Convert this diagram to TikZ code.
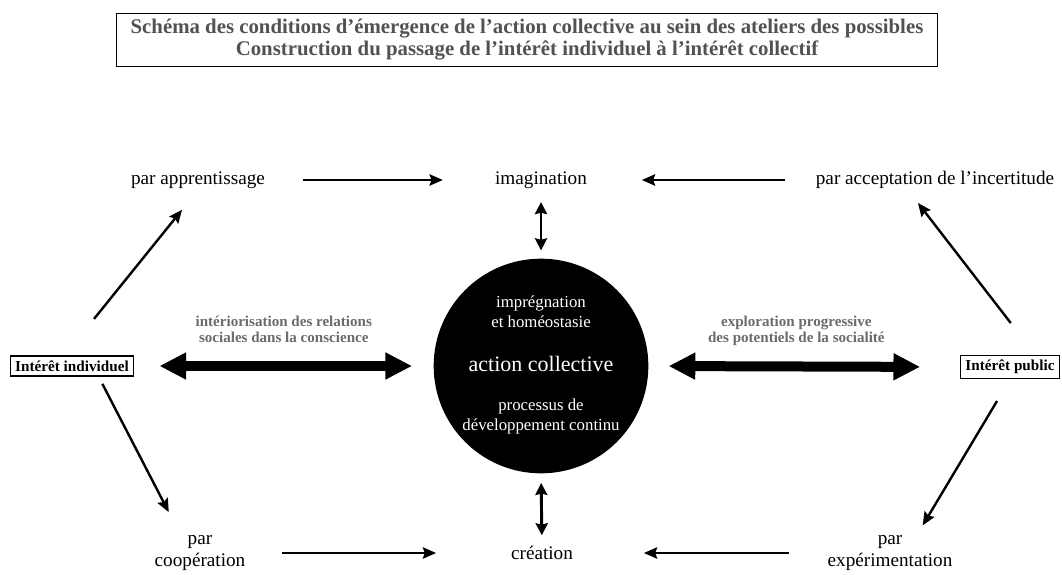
\documentclass[tikz,border=0pt]{standalone}
\usepackage{fontspec}
\setmainfont{Liberation Serif}
\usetikzlibrary{arrows.meta}

\definecolor{titregris}{gray}{0.32}
\definecolor{glosegris}{gray}{0.42}

\tikzset{
  titre/.style={draw, line width=0.9pt, text=titregris, align=center,
    font=\bfseries\fontsize{15.6}{16.5}\selectfont, minimum width=616pt, minimum height=40pt, inner sep=1pt},
  etape/.style={align=center, inner sep=1pt, font=\fontsize{14.4}{17}\selectfont},
  pole/.style={draw, line width=1pt, inner sep=3.5pt, font=\bfseries\fontsize{11.4}{13}\selectfont},
  cercle/.style={circle, fill=black, minimum size=161pt, inner sep=0pt},
  dedans/.style={text=white, align=center, inner sep=0pt, font=\fontsize{12.6}{15}\selectfont},
  glose/.style={text=glosegris, align=center, inner sep=0pt, font=\bfseries\fontsize{11.3}{11.8}\selectfont},
  fleche/.style={line width=1.8pt, -{Stealth[length=10pt,width=8.5pt,inset=1.5pt]}},
  lien/.style={line width=2.2pt, {Stealth[length=9pt,width=9pt,inset=1pt]}-{Stealth[length=9pt,width=9pt,inset=1pt]}},
  gros/.style={line width=7.5pt, {Triangle[length=20pt,width=19pt]}-{Triangle[length=20pt,width=19pt]}}
}

\begin{document}
\begin{tikzpicture}[x=0.75pt,y=-0.75pt]
  \useasboundingbox (0,0) rectangle (1062,574);

  \node[titre] (titre) at (527,40) {Schéma des conditions d’émergence de l’action collective au sein des ateliers des possibles\\Construction du passage de l’intérêt individuel à l’intérêt collectif};

  % ligne du haut
  \node[etape] (appr) at (198,180) {par apprentissage};
  \node[etape] (imag) at (541,180) {imagination};
  \node[etape] (accept) at (935,180) {par acceptation de l’incertitude};

  % les deux intérêts et le cercle
  \node[pole] (indiv) at (72,366) {Intérêt individuel};
  \node[pole] (public) at (1010,367) {Intérêt public};
  \node[cercle] (action) at (541,366) {};
  \node[dedans] (impr) at (541,312) {imprégnation\\et homéostasie};
  \node[dedans, font=\fontsize{16.5}{18}\selectfont] (coll) at (541,364) {action collective};
  \node[dedans] (proc) at (541,416) {processus de\\développement continu};

  % ligne du bas
  \node[etape] (coop) at (200,553) {par\\coopération};
  \node[etape] (creation) at (542,553) {création};
  \node[etape] (exper) at (890,553) {par\\expérimentation};

  \draw[fleche, shorten <=26pt, shorten >=55pt] (coop.east) -- (creation.west);
  \draw[fleche, shorten <=28pt, shorten >=52pt] (exper.west) -- (creation.east);
  \draw[fleche, shorten <=27pt, shorten >=38pt] (appr.east) -- (imag.west);
  \draw[fleche, shorten <=22pt, shorten >=40pt] (accept.west) -- (imag.east);

  \draw[fleche, shorten <=35pt, shorten >=19pt] (indiv.124) -- (appr.south);
  \draw[fleche, shorten <=6pt, shorten >=18pt] (indiv.-22) -- (coop.136);
  \draw[fleche, shorten <=30pt, shorten >=12pt] (public.26) -- (accept.-159);
  \draw[fleche, shorten <=19pt, shorten >=7pt] (public.south) -- (exper.35);

  \draw[lien, shorten <=9pt, shorten >=6pt] (imag.south) -- (action.north);
  \draw[lien, shorten <=7pt, shorten >=7pt] (action.south) -- (creation.north);

  \draw[gros, shorten <=19pt, shorten >=16pt] (indiv.east) -- (action.west)
    node[glose, midway, above=14pt] (interio) {intériorisation des relations\\sociales dans la conscience};
  \draw[gros, shorten <=15pt, shorten >=30pt] (action.east) -- (public.west)
    node[glose, midway, xshift=-6pt, above=12pt] (explo) {exploration progressive\\des potentiels de la socialité};
\end{tikzpicture}
\end{document}
